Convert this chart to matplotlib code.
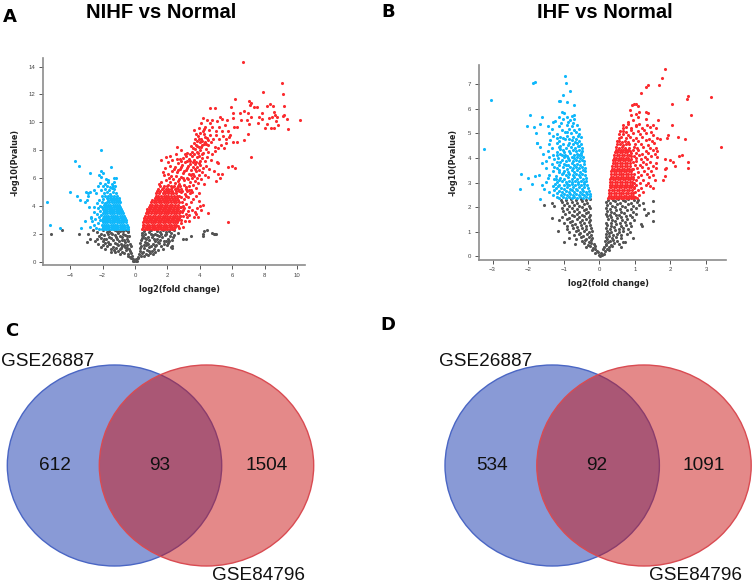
#Volcano plots and Venn diagrams (NIHF / IHF vs Normal)
import matplotlib
matplotlib.use("Agg")
import matplotlib.pyplot as plt
from matplotlib.patches import Ellipse

# -----------------------------
# Panel A values
# -----------------------------
a_xticks = [-4, -2, 0, 2, 4, 6, 8, 10]
a_yticks = [0, 2, 4, 6, 8, 10, 12, 14]

# solid part of the cloud as rows: (y, [x, x, ...])
a_red_rows = [
    (2.34, [.46, .6, .74, .88, 1.02, 1.16, 1.3, 1.44, 1.58, 1.72, 1.86, 2.0, 2.14, 2.28, 2.42]),
    (2.5, [.5, .65, .8, .95, 1.1, 1.25, 1.4, 1.55, 1.7, 1.85, 2.0, 2.15, 2.3, 2.44]),
    (2.66, [.47, .58, .72, .87, 1.03, 1.18, 1.33, 1.48, 1.63, 1.78, 1.93, 2.08, 2.23, 2.38, 2.52]),
    (2.82, [.52, .66, .8, .96, 1.12, 1.26, 1.42, 1.56, 1.72, 1.86, 2.02, 2.16, 2.32, 2.46, 2.6]),
    (2.98, [.55, .7, .86, 1.0, 1.16, 1.3, 1.46, 1.6, 1.76, 1.9, 2.06, 2.2, 2.36, 2.5, 2.64]),
    (3.14, [.58, .74, .9, 1.06, 1.2, 1.36, 1.5, 1.66, 1.8, 1.96, 2.1, 2.26, 2.42, 2.56, 2.7]),
    (3.3, [.62, .78, .94, 1.1, 1.25, 1.4, 1.56, 1.7, 1.86, 2.0, 2.16, 2.32, 2.46, 2.6, 2.76]),
    (3.46, [.66, .82, .98, 1.14, 1.3, 1.45, 1.6, 1.76, 1.9, 2.06, 2.22, 2.38, 2.52, 2.68]),
    (3.62, [.72, .88, 1.04, 1.2, 1.35, 1.5, 1.66, 1.82, 1.96, 2.12, 2.28, 2.42, 2.58, 2.78]),
    (3.78, [.76, .92, 1.08, 1.24, 1.4, 1.56, 1.72, 1.86, 2.02, 2.18, 2.34, 2.5, 2.66]),
    (3.94, [.84, 1.0, 1.14, 1.3, 1.46, 1.6, 1.76, 1.92, 2.08, 2.24, 2.4, 2.56, 2.74]),
    (4.1, [.92, 1.06, 1.22, 1.38, 1.52, 1.68, 1.84, 2.0, 2.14, 2.3, 2.46, 2.62]),
    (4.26, [1.0, 1.16, 1.3, 1.46, 1.6, 1.76, 1.92, 2.06, 2.22, 2.38, 2.54, 2.72]),
    (4.42, [1.06, 1.26, 1.4, 1.56, 1.7, 1.86, 2.0, 2.16, 2.32, 2.48, 2.62]),
    (4.58, [1.2, 1.34, 1.5, 1.66, 1.82, 1.96, 2.12, 2.28, 2.44, 2.6]),
    (4.74, [1.28, 1.44, 1.62, 1.76, 1.92, 2.06, 2.22, 2.4, 2.56, 2.72]),
    (4.9, [1.3, 1.5, 1.72, 1.86, 2.02, 2.2, 2.36, 2.54]),
    (5.06, [1.38, 1.56, 1.76, 1.94, 2.12, 2.3, 2.5, 2.68, 2.88]),
    (5.22, [1.44, 1.66, 1.88, 2.06, 2.24, 2.44, 2.62]),
    (5.4, [1.56, 1.8, 2.0, 2.22, 2.42, 2.62]),
]
a_red_points = [
    # sparse band right of the solid part
    (2.72, 2.42), (2.64, 2.58), (2.86, 2.76), (2.96, 2.5), (3.08, 2.94), (2.84, 3.02), (3.2, 3.18),
    (2.96, 3.26), (3.12, 3.44), (3.34, 3.32), (2.92, 3.56), (3.24, 3.66), (3.5, 3.74), (3.04, 3.82),
    (3.32, 3.94), (3.7, 3.58), (2.96, 4.02), (3.16, 4.16), (3.44, 4.26), (3.84, 3.88), (4.06, 3.7),
    (4.0, 4.02), (3.96, 4.34), (4.2, 4.1), (3.04, 4.48), (3.28, 4.62), (3.58, 4.5), (3.76, 4.72),
    (2.86, 4.66), (3.06, 4.84), (3.4, 4.92), (3.96, 4.96), (2.84, 5.0), (3.2, 5.08), (1.98, 5.1),
    (3.64, 3.18), (3.74, 3.42), (3.3, 2.9), (3.86, 3.2), (2.82, 3.9), (2.9, 4.3), (3.14, 4.7),
    (2.78, 3.3), (2.98, 3.7), (3.5, 5.0), (3.3, 5.14), (3.12, 5.36), (2.8, 5.42),
    # the band rising to the upper right
    (1.5, 5.6), (1.72, 5.28), (1.62, 5.74), (1.88, 5.86), (2.02, 5.5), (2.16, 5.72), (2.3, 5.38),
    (2.44, 5.62), (2.58, 5.3), (2.72, 5.56), (2.86, 5.24), (3.0, 5.48), (3.14, 5.2), (3.3, 5.4),
    (3.46, 5.16), (3.6, 5.52), (3.78, 5.28), (2.12, 6.04), (2.36, 5.96), (2.5, 6.18), (2.7, 5.9),
    (2.84, 6.1), (3.02, 5.84), (3.18, 6.04), (3.36, 5.74), (3.52, 6.0), (3.7, 5.82), (3.88, 5.62),
    (4.06, 5.9), (4.22, 5.54), (1.8, 6.2), (1.72, 6.46), (2.04, 6.32), (2.3, 6.5), (2.56, 6.42),
    (2.78, 6.64), (2.98, 6.36), (3.14, 6.6), (3.3, 6.3), (3.44, 6.56), (3.6, 6.32), (3.76, 6.5),
    (3.92, 6.24), (4.1, 6.44), (4.3, 6.2), (4.48, 6.1), (1.86, 6.74), (2.16, 6.9), (2.44, 6.82),
    (2.62, 7.06), (2.9, 6.94), (3.08, 7.12), (3.24, 6.84), (3.38, 7.02), (3.56, 6.78), (3.7, 7.0),
    (3.84, 6.76), (4.0, 6.94), (4.2, 6.72), (4.36, 6.9), (4.56, 6.68), (2.04, 7.18), (2.3, 7.3),
    (2.74, 7.34), (2.94, 7.42), (3.12, 7.56), (3.3, 7.4), (3.5, 7.56), (3.66, 7.3), (3.82, 7.5),
    (3.98, 7.24), (4.14, 7.44), (4.3, 7.2), (4.46, 7.52), (4.66, 7.3), (1.58, 7.28), (1.9, 7.5),
    (2.18, 7.56), (2.52, 7.7), (2.86, 8.0), (2.6, 8.2), (3.06, 7.72), (3.54, 7.9), (3.72, 8.1),
    (3.88, 7.78), (4.02, 8.0), (4.2, 7.82), (4.36, 8.12), (4.52, 7.9), (4.74, 7.74), (4.94, 7.96),
    (3.46, 8.3), (3.64, 8.5), (3.82, 8.3), (3.98, 8.6), (4.14, 8.36), (4.3, 8.62), (4.5, 8.34),
    (4.66, 8.6), (4.9, 8.2), (5.12, 8.16), (5.3, 8.38), (5.46, 8.16), (5.62, 8.5), (3.7, 8.84),
    (3.88, 9.02), (4.06, 8.84), (4.24, 9.14), (4.42, 8.88), (4.6, 9.1), (4.8, 8.84), (5.0, 9.06),
    (5.2, 8.8), (5.4, 9.0), (5.58, 8.78), (5.8, 8.94), (3.62, 9.45), (3.96, 9.56), (4.16, 9.4),
    (4.34, 9.7), (4.54, 9.42), (4.76, 9.66), (4.98, 9.4), (5.16, 9.68), (5.36, 9.36), (5.52, 9.84),
    (5.72, 9.4), (4.08, 9.98), (4.2, 10.3), (4.44, 10.16), (4.72, 10.18), (5.02, 10.1), (5.22, 10.38),
    (5.36, 10.26), (4.6, 9.94), (5.04, 7.12), (5.14, 7.05), (5.1, 6.3), (5.34, 6.3), (5.22, 5.97),
    (4.98, 5.76), (4.84, 6.5),
    # extra fill inside the band
    (2.22, 6.18), (2.62, 5.76), (2.94, 6.02), (3.26, 5.92), (3.44, 6.2), (3.66, 6.14), (3.84, 6.02),
    (2.42, 6.62), (2.66, 6.56), (2.86, 6.76), (3.04, 6.5), (3.22, 6.72), (3.48, 6.3), (3.68, 6.66),
    (3.94, 6.58), (2.58, 7.34), (2.84, 7.22), (3.2, 7.24), (3.4, 7.22), (3.58, 7.14), (3.78, 7.18),
    (3.94, 7.06), (3.22, 7.78), (3.4, 7.7), (3.62, 7.72), (3.8, 7.86), (3.96, 7.62), (4.1, 7.72),
    (3.56, 8.14), (3.74, 8.34), (3.92, 8.22), (4.08, 8.2), (4.22, 8.46), (4.4, 8.42), (3.8, 8.66),
    (3.94, 8.82), (4.12, 8.66), (4.34, 8.94), (4.5, 8.7), (3.76, 9.2), (4.02, 9.26), (4.22, 9.5),
    # top right outliers
    (6.67, 14.3), (9.03, 12.85), (7.88, 12.18), (9.14, 12.0), (6.16, 11.7), (7.04, 11.5),
    (7.17, 11.4), (7.08, 11.25), (9.18, 11.2), (4.62, 11.03), (4.91, 11.0), (5.91, 11.07),
    (7.33, 11.1), (7.54, 11.1), (8.11, 11.15), (8.32, 11.34), (8.48, 11.2), (8.56, 10.77),
    (8.64, 10.5), (9.14, 10.45), (9.2, 10.5), (9.34, 10.26), (10.18, 10.17), (9.42, 9.52),
    (8.83, 9.8), (8.56, 9.6), (8.36, 9.6), (8.0, 9.6), (8.11, 9.88), (8.28, 10.3),
    (8.46, 10.4), (8.73, 10.35), (8.69, 10.1), (7.62, 10.35), (7.6, 9.93), (7.8, 10.65),
    (7.84, 10.26), (6.98, 10.65), (7.13, 10.4), (6.69, 10.84), (6.47, 10.65), (6.06, 10.7),
    (7.04, 9.85), (6.88, 10.2), (6.51, 10.17), (6.06, 10.28), (5.69, 10.17), (6.12, 9.69),
    (6.3, 9.7), (6.94, 9.2), (6.71, 8.73), (6.26, 8.6), (6.02, 8.6), (7.15, 7.5),
    (5.73, 6.82), (6.0, 6.89), (6.18, 6.75), (5.73, 2.85), (4.52, 3.47), (5.86, 9.1),
]

a_blue_rows = [
    (2.34, [-2.2, -2.06, -1.92, -1.78, -1.64, -1.5, -1.36, -1.22, -1.08, -.94, -.8, -.66, -.52, -.41]),
    (2.5, [-2.0, -1.86, -1.72, -1.58, -1.44, -1.3, -1.16, -1.02, -.88, -.74, -.6, -.46]),
    (2.66, [-2.06, -1.92, -1.78, -1.64, -1.5, -1.36, -1.22, -1.08, -.94, -.8, -.66, -.5]),
    (2.82, [-1.96, -1.84, -1.7, -1.56, -1.42, -1.28, -1.14, -1.0, -.86, -.72, -.55]),
    (2.98, [-2.04, -1.94, -1.8, -1.66, -1.52, -1.38, -1.24, -1.1, -.96, -.82, -.68, -.57]),
    (3.14, [-2.0, -1.88, -1.72, -1.58, -1.44, -1.3, -1.16, -1.02, -.88, -.74, -.62]),
    (3.3, [-1.94, -1.78, -1.64, -1.5, -1.36, -1.22, -1.08, -.94, -.8, -.66]),
    (3.46, [-1.96, -1.84, -1.7, -1.56, -1.42, -1.28, -1.14, -1.0, -.86, -.72]),
    (3.62, [-1.9, -1.76, -1.62, -1.48, -1.34, -1.2, -1.06, -.92, -.78]),
    (3.78, [-1.98, -1.86, -1.7, -1.56, -1.42, -1.28, -1.14, -1.0, -.84]),
    (3.94, [-1.88, -1.74, -1.6, -1.46, -1.32, -1.18, -1.04, -.9]),
    (4.1, [-1.8, -1.66, -1.52, -1.38, -1.24, -1.1, -.96]),
    (4.26, [-1.7, -1.58, -1.44, -1.3, -1.16, -1.02, -.92]),
    (4.42, [-1.68, -1.5, -1.3, -1.12, -.98]),
    (4.58, [-1.74, -1.56, -1.36, -1.16, -1.0]),
]
a_blue_points = [
    (-2.11, 8.0), (-3.72, 7.25), (-3.48, 6.9), (-1.46, 6.8), (-2.78, 6.4), (-2.1, 6.5),
    (-2.0, 6.4), (-2.2, 6.2), (-2.08, 6.05), (-1.3, 6.0), (-1.2, 5.98), (-1.8, 5.9),
    (-1.68, 5.86), (-3.98, 5.0), (-5.4, 4.25), (-5.24, 2.62), (-4.6, 2.45), (-3.3, 2.4),
    (-2.8, 2.5), (-3.1, 2.9), (-2.7, 3.1), (-2.5, 3.9), (-2.38, 2.44), (-2.5, 2.66),
    (-2.3, 2.78), (-2.62, 2.9), (-2.14, 2.96), (-2.44, 3.06), (-2.24, 3.2), (-2.74, 3.22),
    (-2.1, 3.34), (-2.36, 3.42), (-2.52, 3.56), (-2.18, 3.62), (-2.28, 3.82), (-2.04, 3.9),
    (-2.84, 3.9), (-2.18, 4.02), (-1.92, 4.06), (-2.32, 4.2), (-2.04, 4.28), (-1.82, 4.2),
    (-3.1, 4.3), (-3.42, 4.46), (-2.94, 4.46), (-3.58, 4.68), (-2.24, 4.42), (-1.96, 4.5),
    (-1.38, 4.48), (-1.2, 4.5), (-2.9, 4.72), (-2.06, 4.7), (-1.84, 4.72), (-1.64, 4.74),
    (-1.46, 4.72), (-1.28, 4.72), (-1.1, 4.7), (-2.92, 4.94), (-3.02, 5.02), (-2.76, 4.98),
    (-2.4, 4.9), (-1.92, 4.9), (-1.7, 5.0), (-1.52, 4.88), (-1.36, 5.02), (-1.2, 4.94),
    (-2.5, 5.16), (-2.08, 5.14), (-1.84, 5.22), (-1.6, 5.14), (-1.44, 5.26), (-1.28, 5.18),
    (-2.3, 5.42), (-2.0, 5.4), (-1.74, 5.46), (-1.52, 5.36), (-1.34, 5.46), (-1.22, 5.4),
    (-2.14, 5.62), (-1.86, 5.6), (-1.64, 5.7), (-1.42, 5.6), (-1.28, 5.72),
]

a_grey_points = [
    (-.14, .06), (-.04, .02), (.05, .04), (.13, .08), (-.24, .24), (-.1, .16), (.08, .2), (.2, .28),
    (-.46, .44), (-.3, .36), (-.16, .42), (.16, .36), (.34, .42), (.54, .38), (.8, .46),
    (-.9, .52), (-.66, .62), (-.44, .58), (-.24, .64), (.24, .56), (.42, .64), (.66, .56), (.92, .6), (1.12, .52),
    (-1.5, .7), (-1.24, .66), (-1.02, .78), (-.78, .72), (-.56, .84), (-.32, .76), (.3, .8), (.5, .7),
    (.74, .84), (1.02, .74), (1.26, .68), (-1.84, .88), (-1.46, .9), (-1.18, .98), (-.92, .92), (-.62, 1.02),
    (-.36, .94), (.3, .98), (.58, .96), (.88, 1.04), (1.18, .92), (1.44, .86), (1.7, .94), (-2.1, 1.08),
    (-1.72, 1.14), (-1.38, 1.06), (-1.06, 1.16), (-.78, 1.1), (-.48, 1.2), (-.26, 1.12), (.36, 1.14), (.66, 1.22),
    (.98, 1.12), (1.3, 1.2), (1.62, 1.1), (1.96, 1.16), (2.24, 1.06), (-2.26, 1.26), (-1.88, 1.32), (-1.52, 1.24),
    (-1.22, 1.36), (-.88, 1.28), (-.6, 1.38), (-.32, 1.3), (.32, 1.34), (.74, 1.36), (1.08, 1.28), (1.42, 1.38),
    (1.76, 1.26), (2.02, 1.34), (-2.96, 1.42), (-2.44, 1.46), (-2.0, 1.5), (-1.66, 1.42), (-1.34, 1.54), (-1.0, 1.46),
    (-.68, 1.56), (-.42, 1.48), (.38, 1.52), (.6, 1.44), (.88, 1.56), (1.2, 1.48), (1.56, 1.58), (1.9, 1.46),
    (2.26, 1.52), (-2.36, 1.62), (-2.12, 1.7), (-1.78, 1.6), (-1.46, 1.72), (-1.14, 1.64), (-.8, 1.74), (-.5, 1.66),
    (.42, 1.7), (.7, 1.62), (1.02, 1.74), (1.34, 1.64), (1.68, 1.76), (2.04, 1.66), (2.32, 1.74), (2.95, 1.6),
    (3.12, 1.66), (-2.2, 1.82), (-1.92, 1.9), (-1.58, 1.8), (-1.26, 1.92), (-.94, 1.82), (-.6, 1.94), (-.36, 1.84),
    (.46, 1.88), (.78, 1.8), (1.12, 1.92), (1.46, 1.82), (1.82, 1.94), (2.16, 1.84), (2.42, 1.9), (-5.2, 1.96),
    (-3.46, 1.96), (-2.9, 1.98), (-2.08, 2.02), (-1.74, 2.1), (-1.42, 1.98), (-1.06, 2.08), (-.74, 2.0), (-.42, 2.1),
    (.44, 2.04), (.84, 2.1), (1.22, 2.0), (1.56, 2.1), (1.92, 2.0), (2.24, 2.08), (2.66, 2.08), (-2.34, 2.16),
    (-1.98, 2.24), (-1.6, 2.18), (-1.26, 2.26), (-.9, 2.18), (-.58, 2.24), (.56, 2.22), (.98, 2.26), (1.36, 2.18),
    (1.74, 2.26), (2.08, 2.2), (2.42, 2.24), (-4.5, 2.26), (-2.6, 2.24), (3.44, 1.86), (-2.8, 1.66),
    (4.16, 2.0), (4.26, 2.2), (4.46, 2.28), (4.2, 1.86), (4.72, 2.05), (4.9, 1.95), (5.0, 2.02), (4.84, 2.0),
    (2.26, 1.0), (2.3, 1.1),
    # extra fill
    (-1.66, 1.96), (-1.9, 1.62), (-1.62, 1.3), (-1.2, 1.74), (-1.1, 1.26), (-.8, 1.54), (-.52, 1.86), (-.7, 1.2),
    (-1.3, .84), (-.84, .98), (-.5, 1.0), (-.76, 2.22), (-1.12, 2.2), (-1.5, 2.04), (-2.0, 1.2), (-.44, 2.2),
    (.56, 1.2), (.82, 1.3), (.52, 1.82), (.62, 2.02), (1.0, 1.96), (1.38, 1.92), (1.14, 1.6), (1.5, 1.34),
    (1.76, 1.5), (2.1, 1.5), (1.9, 2.16), (1.26, 1.1), (.84, .74), (.64, 1.7), (.9, 2.24), (1.6, 1.96),
]

# -----------------------------
# Panel B values
# -----------------------------
b_xticks = [-3, -2, -1, 0, 1, 2, 3]
b_yticks = [0, 1, 2, 3, 4, 5, 6, 7]

b_red_rows = [
    (2.36, [.25, .32, .39, .46, .53, .6, .67, .74, .81, .88, .94]),
    (2.47, [.26, .34, .41, .48, .55, .62, .69, .76, .83, .9, .96]),
    (2.58, [.27, .33, .4, .47, .54, .61, .68, .75, .82, .89, .95]),
    (2.69, [.27, .35, .42, .49, .56, .63, .7, .77, .84, .91]),
    (2.8, [.29, .34, .41, .48, .55, .62, .69, .76, .83, .9, .97]),
    (2.91, [.3, .36, .43, .5, .57, .64, .71, .78, .85, .92]),
    (3.02, [.31, .37, .44, .51, .58, .65, .72, .79, .86, .93]),
    (3.13, [.31, .38, .45, .52, .59, .66, .73, .8, .87]),
    (3.24, [.32, .39, .46, .53, .6, .67, .74, .81, .88, .95]),
    (3.35, [.33, .4, .47, .54, .61, .68, .75, .82, .89]),
    (3.46, [.34, .41, .48, .55, .62, .69, .76, .83, .9]),
    (3.57, [.35, .42, .49, .56, .63, .7, .77, .84, .91]),
    (3.68, [.36, .43, .5, .57, .64, .71, .78, .85]),
    (3.79, [.38, .44, .51, .58, .65, .72, .79, .86]),
    (3.9, [.38, .45, .52, .59, .66, .73, .8, .87]),
    (4.01, [.4, .47, .54, .61, .68, .75, .82]),
    (4.12, [.42, .49, .56, .63, .7, .77, .84]),
    (4.23, [.44, .51, .58, .65, .72, .79]),
    (4.34, [.46, .53, .6, .67, .74, .8]),
]
b_red_points = [
    (.99, 2.42), (1.06, 2.38), (1.12, 2.5), (1.0, 2.6), (1.22, 2.6), (1.08, 2.68), (.97, 2.78), (1.18, 2.76),
    (1.5, 2.76), (1.04, 2.88), (1.42, 2.84), (1.3, 2.88), (.98, 2.98), (1.14, 3.0), (1.36, 3.0), (1.02, 3.1),
    (1.24, 3.12), (1.56, 3.1), (1.78, 3.1), (.94, 3.14), (1.08, 3.22), (1.4, 3.22), (1.86, 3.26), (1.18, 3.3),
    (1.34, 3.36), (1.52, 3.3), (.98, 3.36), (1.1, 3.44), (1.26, 3.48), (1.44, 3.46), (1.84, 3.54), (.96, 3.56),
    (1.06, 3.58), (1.2, 3.62), (1.38, 3.58), (1.58, 3.6), (1.88, 3.58), (2.48, 3.58), (1.0, 3.7), (1.14, 3.72),
    (1.3, 3.76), (1.5, 3.68), (2.12, 3.66), (.94, 3.82), (1.04, 3.86), (1.22, 3.84), (1.42, 3.82), (1.6, 3.8),
    (2.06, 3.84), (2.48, 3.82), (.9, 3.96), (1.02, 3.98), (1.16, 3.94), (1.34, 3.96), (1.84, 3.94), (2.0, 3.9),
    (.88, 4.06), (.98, 4.08), (1.12, 4.1), (1.28, 4.04), (1.46, 4.06), (1.62, 4.04), (2.23, 4.08), (2.33, 4.1),
    (.9, 4.2), (1.04, 4.2), (1.2, 4.18), (1.38, 4.22), (1.56, 4.16), (.86, 4.3), (.94, 4.32), (1.1, 4.32),
    (1.3, 4.28), (1.5, 4.34), (1.62, 4.3), (.84, 4.42), (.98, 4.44), (1.06, 4.4), (1.22, 4.46), (1.42, 4.42),
    (1.58, 4.4), (3.43, 4.43), (.48, 4.44), (.56, 4.42), (.64, 4.46), (.72, 4.42), (.5, 4.56), (.58, 4.58),
    (.66, 4.54), (.74, 4.58), (.84, 4.56), (1.0, 4.58), (1.16, 4.56), (1.36, 4.54), (1.54, 4.6), (.5, 4.68),
    (.56, 4.7), (.64, 4.66), (.72, 4.7), (.8, 4.66), (.94, 4.72), (1.1, 4.68), (1.3, 4.72), (1.48, 4.7),
    (1.7, 4.76), (.54, 4.82), (.62, 4.84), (.74, 4.8), (.86, 4.86), (1.02, 4.8), (1.2, 4.84), (1.4, 4.78),
    (1.62, 4.8), (1.9, 4.8), (2.2, 4.85), (2.4, 4.77), (.56, 4.96), (.68, 4.98), (.8, 4.94), (.94, 5.0),
    (1.14, 4.96), (1.32, 5.0), (1.52, 4.92), (1.94, 4.94), (.58, 5.08), (.66, 5.1), (.76, 5.06), (.9, 5.12),
    (1.08, 5.08), (1.26, 5.14), (1.46, 5.06), (.66, 5.22), (.74, 5.26), (.88, 5.2), (1.04, 5.28), (1.2, 5.22),
    (1.42, 5.26), (1.6, 5.2), (.68, 5.36), (.82, 5.4), (1.02, 5.34), (1.12, 5.4), (1.34, 5.36), (1.52, 5.36),
    (2.03, 5.35), (1.86, 7.6), (1.76, 7.25), (1.68, 6.97), (1.37, 6.97), (1.32, 6.87), (1.18, 6.66), (2.04, 6.2),
    (3.15, 6.47), (2.46, 6.38), (2.5, 6.5), (.98, 6.2), (1.02, 6.2), (.92, 6.14), (1.1, 6.1), (.85, 5.95),
    (1.04, 5.8), (1.12, 5.85), (1.32, 5.85), (1.38, 5.82), (2.57, 5.76), (.9, 5.75), (1.08, 5.68), (1.3, 5.58),
    (1.66, 5.54), (.96, 5.55), (.82, 5.48),
]

b_blue_points = [
    (-1.12, 2.36), (-1.02, 2.4), (-.94, 2.36), (-.86, 2.42), (-.78, 2.36), (-.7, 2.4), (-.62, 2.36), (-.54, 2.42),
    (-.46, 2.37), (-.38, 2.41), (-.3, 2.37), (-.25, 2.44), (-1.3, 2.5), (-1.08, 2.5), (-.98, 2.54), (-.9, 2.48),
    (-.82, 2.54), (-.74, 2.5), (-.66, 2.55), (-.58, 2.5), (-.5, 2.54), (-.42, 2.5), (-.34, 2.55), (-.27, 2.52),
    (-1.4, 2.62), (-1.14, 2.64), (-1.04, 2.6), (-.94, 2.66), (-.86, 2.62), (-.78, 2.68), (-.7, 2.62), (-.62, 2.68),
    (-.54, 2.62), (-.46, 2.67), (-.38, 2.62), (-.29, 2.66), (-1.56, 2.74), (-1.22, 2.76), (-1.08, 2.78), (-.98, 2.74),
    (-.9, 2.8), (-.82, 2.75), (-.74, 2.8), (-.66, 2.75), (-.58, 2.8), (-.5, 2.75), (-.42, 2.8), (-.33, 2.76),
    (-1.6, 2.9), (-1.3, 2.86), (-1.12, 2.92), (-1.0, 2.88), (-.92, 2.94), (-.84, 2.88), (-.76, 2.94), (-.68, 2.88),
    (-.6, 2.93), (-.52, 2.88), (-.44, 2.94), (-.34, 2.9), (-1.5, 3.04), (-1.2, 3.02), (-1.04, 3.06), (-.94, 3.02),
    (-.84, 3.08), (-.76, 3.02), (-.68, 3.07), (-.6, 3.02), (-.52, 3.08), (-.44, 3.02), (-.36, 3.06), (-1.44, 3.18),
    (-1.28, 3.16), (-1.1, 3.2), (-.98, 3.16), (-.88, 3.22), (-.78, 3.16), (-.7, 3.22), (-.62, 3.16), (-.54, 3.21),
    (-.46, 3.16), (-.38, 3.2), (-1.7, 3.3), (-1.4, 3.32), (-1.22, 3.28), (-1.06, 3.34), (-.94, 3.3), (-.84, 3.36),
    (-.74, 3.3), (-.66, 3.35), (-.58, 3.3), (-.5, 3.36), (-.4, 3.32), (-1.3, 3.46), (-1.12, 3.44), (-.98, 3.48),
    (-.88, 3.44), (-.78, 3.5), (-.7, 3.44), (-.62, 3.5), (-.54, 3.44), (-.46, 3.49), (-.39, 3.46), (-1.5, 3.6),
    (-1.2, 3.58), (-1.02, 3.62), (-.92, 3.56), (-.82, 3.63), (-.74, 3.58), (-.66, 3.64), (-.58, 3.58), (-.5, 3.63),
    (-.41, 3.6), (-1.34, 3.74), (-1.14, 3.7), (-.98, 3.76), (-.88, 3.72), (-.78, 3.78), (-.7, 3.72), (-.62, 3.77),
    (-.54, 3.72), (-.44, 3.76), (-1.5, 3.88), (-1.2, 3.84), (-1.06, 3.9), (-.94, 3.86), (-.84, 3.92), (-.74, 3.86),
    (-.66, 3.92), (-.58, 3.86), (-.5, 3.9), (-.42, 3.86), (-1.4, 4.02), (-1.16, 3.98), (-1.0, 4.04), (-.88, 3.98),
    (-.78, 4.05), (-.7, 4.0), (-.62, 4.04), (-.54, 4.0), (-.46, 4.04), (-1.58, 4.16), (-1.3, 4.12), (-1.1, 4.18),
    (-.96, 4.14), (-.82, 4.2), (-.72, 4.14), (-.62, 4.18), (-.52, 4.14), (-1.44, 4.3), (-1.2, 4.26), (-1.02, 4.32),
    (-.86, 4.28), (-.74, 4.34), (-.66, 4.28), (-.56, 4.32), (-.48, 4.28), (-1.66, 4.44), (-1.34, 4.42), (-1.12, 4.46),
    (-.94, 4.4), (-.8, 4.46), (-.68, 4.42), (-.58, 4.48), (-.5, 4.42), (-1.75, 4.6), (-1.42, 4.56), (-1.2, 4.6),
    (-1.02, 4.56), (-.86, 4.62), (-.74, 4.56), (-.62, 4.6), (-.52, 4.56), (-1.38, 4.72), (-1.14, 4.7), (-.96, 4.76),
    (-.78, 4.72), (-.66, 4.76), (-.56, 4.7), (-1.3, 4.88), (-1.1, 4.84), (-.92, 4.9), (-.74, 4.86), (-.6, 4.9),
    (-.52, 4.84), (-1.78, 5.0), (-1.42, 5.02), (-1.18, 4.98), (-.96, 5.04), (-.8, 5.0), (-.66, 5.04), (-.56, 4.98),
    (-1.32, 5.16), (-1.04, 5.14), (-.86, 5.18), (-.7, 5.14), (-.58, 5.18), (-1.44, 5.3), (-1.14, 5.28), (-.92, 5.32),
    (-.76, 5.28), (-.62, 5.33), (-1.66, 5.38), (-1.3, 5.46), (-1.08, 5.42), (-.88, 5.46), (-.74, 5.44), (-1.24, 5.5),
    (-1.02, 5.58), (-.82, 5.54), (-.72, 5.6), (-1.12, 5.68), (-.92, 5.66), (-.78, 5.7), (-.72, 5.74),
    (-.96, 7.33), (-1.85, 7.05), (-1.8, 7.1), (-.94, 7.03), (-.82, 6.72), (-1.02, 6.58), (-3.03, 6.34), (-1.14, 6.3),
    (-1.1, 6.3), (-.9, 6.28), (-.72, 6.16), (-1.04, 5.88), (-1.0, 5.84), (-1.96, 5.75), (-1.62, 5.65), (-2.03, 5.3),
    (-1.84, 5.26), (-3.25, 4.38), (-1.75, 4.6), (-2.2, 3.36), (-2.0, 3.2), (-1.9, 2.94), (-2.22, 2.73), (-1.68, 2.34),
    (-1.6, 3.78), (-1.8, 3.28),
    # extra fill
    (-1.2, 2.42), (-1.18, 2.56), (-1.26, 2.68), (-1.16, 2.84), (-1.24, 2.96), (-1.12, 3.1), (-1.22, 3.14), (-1.02, 3.4),
    (-1.12, 3.52), (-1.26, 3.62), (-1.1, 3.82), (-1.28, 3.94), (-.94, 3.7), (-1.04, 4.1), (-1.2, 4.1), (-.9, 4.08),
    (-.98, 4.24), (-1.1, 4.38), (-.88, 4.52), (-1.1, 4.48), (-.84, 4.76), (-1.02, 4.8), (-1.2, 4.82), (-.9, 5.06),
    (-.68, 4.66), (-.6, 4.5), (-.52, 4.22), (-.58, 4.1),
]

b_grey_points = [
    (-.02, .04), (.03, .02), (.07, .05), (-.11, .12), (-.05, .16), (.06, .14), (.12, .1), (-.2, .25), (-.13, .3),
    (-.07, .22), (.1, .28), (.16, .22), (.23, .3), (.28, .25), (-.36, .36), (-.25, .4), (-.18, .34), (-.11, .42),
    (.14, .38), (.2, .44), (.28, .36), (.36, .42), (.6, .38), (-.68, .5), (-.42, .54), (-.32, .48), (-.24, .56),
    (-.16, .5), (.18, .52), (.24, .58), (.32, .48), (.42, .56), (.54, .5), (-.5, .62), (-.4, .68), (-.3, .6),
    (-.22, .68), (.16, .64), (.22, .7), (.3, .62), (.38, .68), (.5, .64), (.66, .6), (-.86, .74), (-.66, .72),
    (-.52, .78), (-.38, .72), (-.28, .8), (-.2, .74), (.18, .78), (.26, .82), (.36, .74), (.46, .8), (.62, .74),
    (.94, .74), (-.72, .86), (-.58, .9), (-.46, .84), (-.34, .92), (-.24, .86), (.2, .9), (.28, .94), (.38, .86),
    (.5, .92), (.62, .86), (.78, .9), (-.86, .98), (-.66, 1.02), (-.54, .96), (-.42, 1.04), (-.3, .98), (-.2, 1.04),
    (.22, 1.02), (.32, .98), (.44, 1.06), (.56, .98), (.68, 1.04), (.86, .98), (-1.16, 1.02), (-.9, 1.1), (-.74, 1.14),
    (-.6, 1.08), (-.48, 1.16), (-.36, 1.1), (-.24, 1.16), (.2, 1.14), (.3, 1.1), (.42, 1.18), (.54, 1.1), (.66, 1.16),
    (.8, 1.1), (-.92, 1.22), (-.78, 1.26), (-.64, 1.2), (-.52, 1.28), (-.38, 1.22), (-.26, 1.28), (.22, 1.26),
    (.34, 1.22), (.46, 1.3), (.6, 1.22), (.74, 1.28), (.9, 1.22), (1.2, 1.24), (-.98, 1.34), (-.82, 1.38), (-.68, 1.32),
    (-.54, 1.4), (-.42, 1.34), (-.3, 1.4), (.2, 1.36), (.32, 1.34), (.44, 1.42), (.58, 1.34), (.72, 1.4), (.86, 1.34),
    (1.16, 1.3), (-1.14, 1.46), (-.9, 1.5), (-.76, 1.44), (-.62, 1.52), (-.5, 1.46), (-.36, 1.52), (-.26, 1.46),
    (.24, 1.5), (.36, 1.46), (.5, 1.54), (.64, 1.46), (.78, 1.52), (.98, 1.46), (1.5, 1.42), (-1.34, 1.55), (-1.06, 1.6),
    (-.84, 1.56), (-.7, 1.62), (-.56, 1.58), (-.42, 1.64), (-.28, 1.58), (.22, 1.62), (.34, 1.58), (.46, 1.66), (.6, 1.58),
    (.76, 1.64), (.92, 1.58), (-.96, 1.72), (-.78, 1.68), (-.64, 1.74), (-.5, 1.7), (-.38, 1.76), (-.26, 1.7), (.2, 1.74),
    (.3, 1.7), (.42, 1.76), (.56, 1.7), (.7, 1.76), (.86, 1.7), (1.04, 1.74), (1.3, 1.7), (-1.02, 1.84), (-.86, 1.8),
    (-.72, 1.86), (-.58, 1.82), (-.44, 1.88), (-.32, 1.82), (.22, 1.86), (.34, 1.82), (.48, 1.88), (.62, 1.82), (.78, 1.88),
    (.94, 1.82), (1.36, 1.78), (1.5, 1.84), (-1.06, 1.96), (-.92, 1.92), (-.78, 1.98), (-.64, 1.94), (-.5, 2.0), (-.38, 1.94),
    (-.26, 1.98), (.2, 1.98), (.3, 1.94), (.44, 2.0), (.58, 1.94), (.72, 2.0), (.88, 1.94), (1.04, 1.98), (1.26, 1.92),
    (-1.26, 2.06), (-1.0, 2.08), (-.84, 2.04), (-.7, 2.1), (-.56, 2.06), (-.42, 2.12), (-.28, 2.06), (.22, 2.1), (.36, 2.06),
    (.5, 2.12), (.64, 2.06), (.8, 2.12), (.96, 2.06), (1.12, 2.1), (-1.06, 2.2), (-.9, 2.16), (-.76, 2.22), (-.62, 2.18),
    (-.48, 2.24), (-.34, 2.18), (.2, 2.22), (.3, 2.18), (.44, 2.24), (.58, 2.18), (.72, 2.24), (.88, 2.18), (1.06, 2.2),
    (1.24, 2.16), (1.5, 2.24), (-1.08, 2.3), (-.94, 2.28), (-.8, 2.32), (-.66, 2.28), (-.52, 2.32), (-.38, 2.28), (-.26, 2.32),
    (.24, 2.3), (.38, 2.28), (.52, 2.32), (.66, 2.28), (.82, 2.32), (.98, 2.28), (1.1, 2.3), (-1.56, 2.1), (-1.34, 2.16),
    (-1.0, .58), (.72, .6),
]

# Venn counts
c_counts = ["612", "93", "1504"]
d_counts = ["534", "92", "1091"]
venn_left = "GSE26887"
venn_right = "GSE84796"

RED = "#fb2b2f"
BLUE = "#10b8fb"
GREY = "#545454"
W, H = 753, 583


def unpack(rows, points):
    xs = [x for y, row in rows for x in row] + [p[0] for p in points]
    ys = [y for y, row in rows for x in row] + [p[1] for p in points]
    return xs, ys


def volcano(box, xlim, ylim, xticks, yticks, series):
    # box is left, top, right, bottom in pixels
    left, top, right, bottom = box
    ax = fig.add_axes([left / W, 1 - bottom / H, (right - left) / W, (bottom - top) / H])
    for rows, points, color in series:
        xs, ys = unpack(rows, points)
        ax.scatter(xs, ys, s=5, c=color, linewidths=0)
    ax.set_xlim(xlim)
    ax.set_ylim(ylim)
    ax.set_xticks(xticks)
    ax.set_yticks(yticks)
    ax.spines["top"].set_visible(False)
    ax.spines["right"].set_visible(False)
    ax.spines["left"].set_color("#8c8c8c")
    ax.spines["bottom"].set_color("#8c8c8c")
    ax.spines["left"].set_linewidth(1.2)
    ax.spines["bottom"].set_linewidth(1.2)
    ax.tick_params(length=3, width=0.7, color="#555555", labelsize=4.3, labelcolor="#444444", pad=2.5)
    for lab in ax.get_xticklabels() + ax.get_yticklabels():
        lab.set_family("Liberation Sans")
    return ax


fig = plt.figure(figsize=(W / 100, H / 100), dpi=100)

volcano((43.3, 58, 305, 265), (-5.65, 10.47), (-0.24, 14.62), a_xticks, a_yticks,
        [([], a_grey_points, GREY), (a_blue_rows, a_blue_points, BLUE), (a_red_rows, a_red_points, RED)])
volcano((479, 65, 726, 259.7), (-3.38, 3.56), (-0.138, 7.78), b_xticks, b_yticks,
        [([], b_grey_points, GREY), ([], b_blue_points, BLUE), (b_red_rows, b_red_points, RED)])

# overlay in pixel coordinates for the venn circles and free text
over = fig.add_axes([0, 0, 1, 1])
over.set_xlim(0, W)
over.set_ylim(H, 0)
over.axis("off")
over.patch.set_alpha(0)

venn_circles = [
    (114.5, "#1537af", "#4a66c4"), (552.2, "#1537af", "#4a66c4"),
    (206.5, "#cb1515", "#d94b52"), (644, "#cb1515", "#d94b52"),
]
for x0, fill, edge in venn_circles:
    over.add_patch(Ellipse((x0, 465.5), 214.4, 201, facecolor=fill, alpha=0.5, edgecolor="none"))
    over.add_patch(Ellipse((x0, 465.5), 214.4, 201, facecolor="none", edgecolor=edge, linewidth=1.0))

venn_font = dict(family="Liberation Sans", fontsize=13.7, ha="center", va="center", color="#111111")
for xpos, label in zip((55, 159.3, 266.7), c_counts):
    over.text(xpos, 465.5, label, **venn_font)
for xpos, label in zip((492.3, 596.7, 703.3), d_counts):
    over.text(xpos, 465.5, label, **venn_font)
over.text(47.5, 362, venn_left, **venn_font)
over.text(258.3, 576, venn_right, **venn_font)
over.text(485.3, 362, venn_left, **venn_font)
over.text(696, 576, venn_right, **venn_font)

title_font = dict(family="Liberation Sans", fontweight="bold", fontsize=14.5, ha="center", va="center", color="black")
over.text(161, 12.5, "NIHF vs Normal", **title_font)
over.text(604.5, 12.5, "IHF vs Normal", **title_font)

panel_font = dict(family="DejaVu Sans", fontweight="bold", fontsize=13, ha="center", va="center", color="black")
over.text(9.5, 17, "A", **panel_font)
over.text(388, 12, "B", **panel_font)
over.text(12, 331, "C", **panel_font)
over.text(388, 325, "D", **panel_font)

axis_font = dict(family="DejaVu Sans", fontweight="bold", fontsize=5.9, ha="center", va="center", color="#222222")
over.text(180, 290, "log2(fold change)", **axis_font)
over.text(15, 162, "-log10(Pvalue)", rotation=90, **axis_font)
over.text(608.5, 283, "log2(fold change)", **axis_font)
over.text(453.5, 162, "-log10(Pvalue)", rotation=90, **axis_font)

fig.savefig("out.png", dpi=100)
